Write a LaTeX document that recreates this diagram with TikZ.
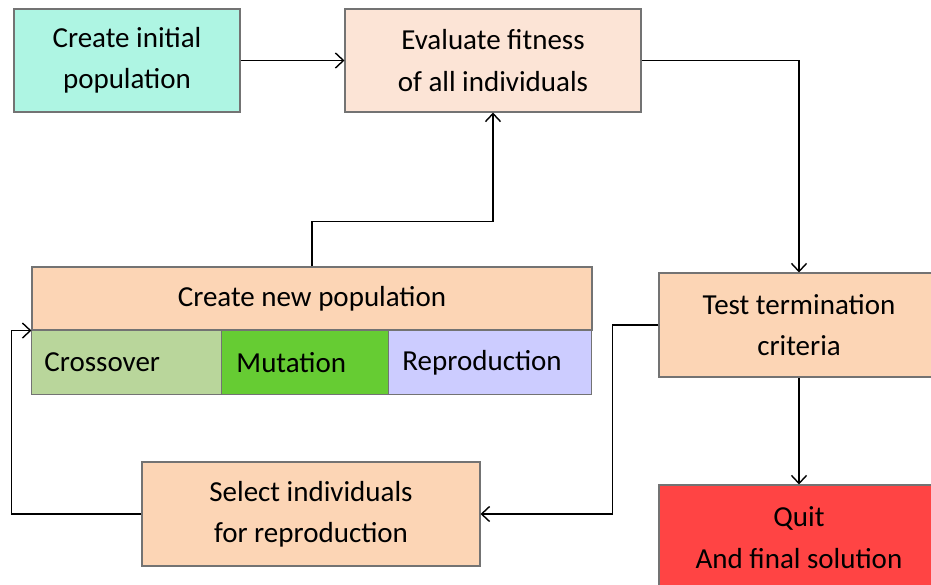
\documentclass[tikz,border=0pt]{standalone}
\usepackage{fontspec}
\setmainfont{Carlito}
\usetikzlibrary{positioning, arrows.meta, calc}

\definecolor{initcol}{HTML}{AEF5E3}
\definecolor{evalcol}{HTML}{FCE4D6}
\definecolor{peach}{HTML}{FCD5B5}
\definecolor{crosscol}{HTML}{B9D69B}
\definecolor{mutcol}{HTML}{66CC33}
\definecolor{repcol}{HTML}{CCCCFF}
\definecolor{quitcol}{HTML}{FF4444}

\begin{document}
\begin{tikzpicture}[
	box/.style={rectangle, draw=black!55, line width=0.6pt, text centered, align=center, inner sep=0pt, font=\fontsize{16.5}{23.5}\selectfont},
	part/.style={rectangle, draw=black!55, line width=0.6pt, minimum height=1.28cm, text width=#1, inner sep=0pt, outer sep=0pt, align=left, font=\fontsize{16.5}{23.5}\selectfont},
	arrow/.style={line width=0.8pt, -{Straight Barb[length=1.6mm, width=3mm]}}
	]
	\useasboundingbox (0,0) rectangle (18.62,-11.68);
	
	% Nodes
	\node[box, fill=initcol, minimum width=4.52cm, minimum height=2.06cm] (init) at (2.54,-1.21) {Create initial\\population};
	\node[box, fill=evalcol, minimum width=5.92cm, minimum height=2.06cm] (eval) at (9.86,-1.21) {Evaluate fitness\\of all individuals};
	
	\node[box, fill=peach, minimum width=11.2cm, minimum height=1.26cm] (newpop) at (6.24,-5.97) {Create new population};
	\node[part=3.8cm, fill=crosscol, anchor=north west] (cross) at (newpop.south west) {\hspace*{0.26cm}Crossover};
	\node[part=3.34cm, fill=mutcol, right=0pt of cross] (mut) {\hspace*{0.3cm}Mutation};
	\node[part=4.06cm, fill=repcol, right=0pt of mut] (rep) {\hspace*{0.28cm}Reproduction};
	
	\node[box, fill=peach, minimum width=5.6cm, minimum height=2.08cm] (test) at (15.98,-6.5) {Test termination\\criteria};
	\node[box, fill=peach, minimum width=6.76cm, minimum height=2.08cm] (select) at (6.22,-10.28) {Select individuals\\for reproduction};
	\node[box, fill=quitcol, minimum width=5.6cm, minimum height=2.1cm] (quit) at (15.98,-10.75) {Quit\\And final solution};
	
	% Arrows
	\draw[arrow] (init) -- (eval);
	\draw[arrow] (eval.east) -| (test.north);
	\draw[arrow] (newpop.north) -- ++(0,0.9) -| (eval.south);
	\draw[arrow] (test.west) -- ++(-0.92,0) |- (select.east);
	\draw[arrow] (test) -- (quit);
	\draw[arrow] (select.west) -- ++(-2.6,0) |- (newpop.south west);
	
\end{tikzpicture}
\end{document}
